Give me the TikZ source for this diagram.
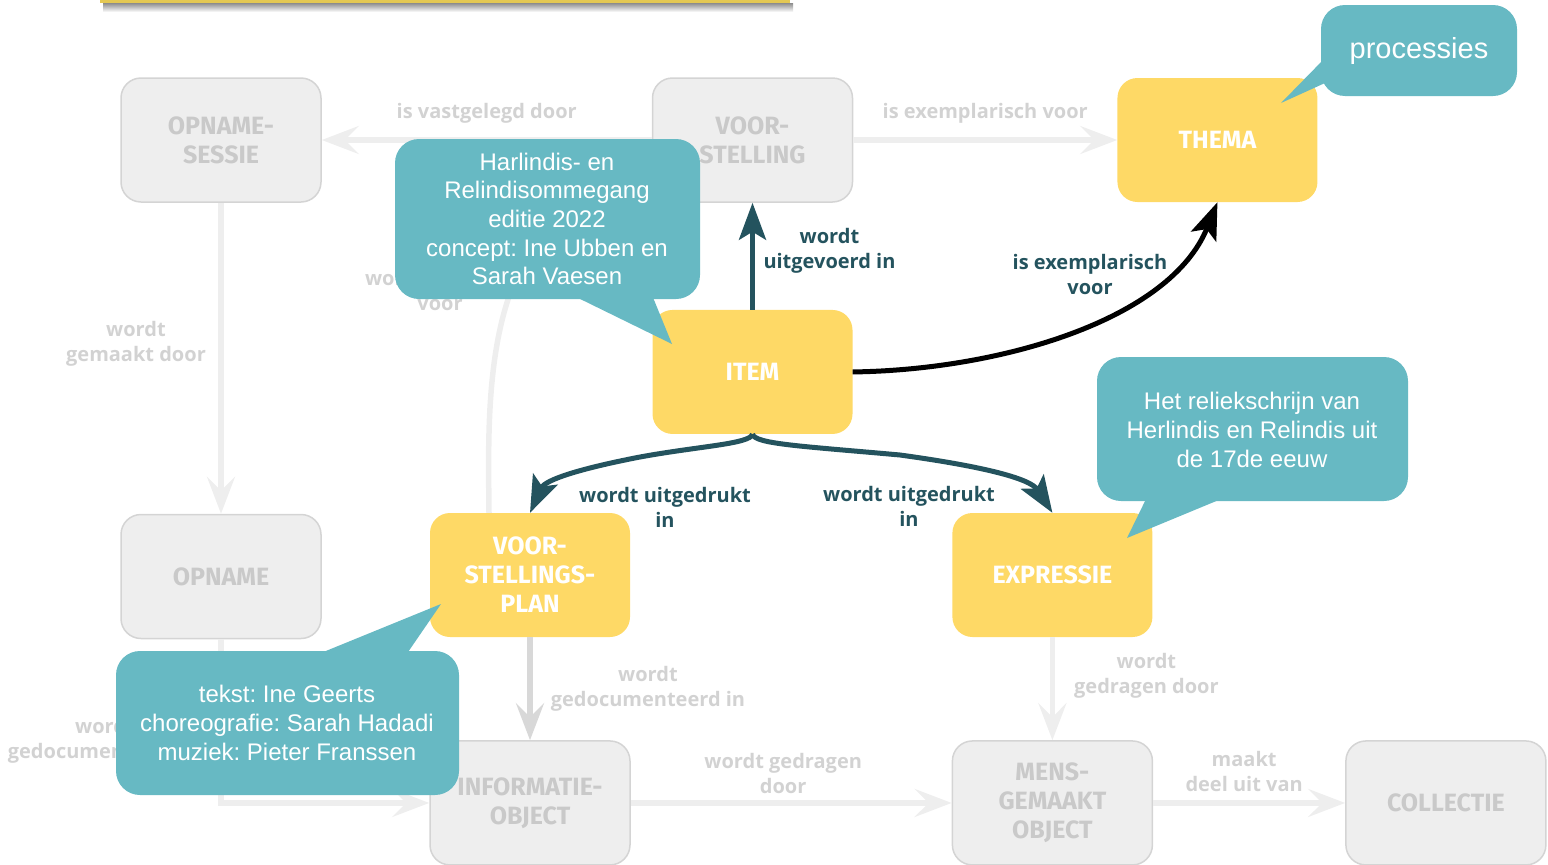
\documentclass[tikz,border=0pt]{standalone}
\usepackage{fontspec}
\setmainfont{Fira Sans}
\newfontfamily\calloutfont{Liberation Sans}
\newfontfamily\labelfont{Open Sans}
\usetikzlibrary{arrows.meta, positioning}
\frenchspacing

\definecolor{itemyellow}{HTML}{FED966}
\definecolor{baryellow}{HTML}{E4C852}
\definecolor{calloutteal}{HTML}{67B9C3}
\definecolor{darkteal}{HTML}{24535E}
\definecolor{boxgray}{HTML}{EEEEEE}
\definecolor{boxline}{HTML}{D4D4D4}
\definecolor{boxtext}{HTML}{C9C9C9}
\definecolor{fadedline}{HTML}{EEEEEE}
\definecolor{fadedtext}{HTML}{D2D2D2}

\tikzset{
  box/.style={rounded corners=20pt, minimum width=200pt, minimum height=124pt,
    align=center, inner sep=0pt, font=\bfseries\fontsize{25}{29}\selectfont},
  grey box/.style={box, fill=boxgray, draw=boxline, line width=1.5pt, text=boxtext},
  yellow box/.style={box, fill=itemyellow, text=white},
  faded/.style={draw=fadedline, line width=5.5pt,
    -{Stealth[length=37pt, width=28pt, inset=14pt]}},
  faded plan/.style={faded, draw=boxline!90},
  active/.style={draw=darkteal, line width=5pt,
    -{Stealth[length=37pt, width=27pt, inset=8pt]}},
  black edge/.style={active, draw=black},
  faded label/.style={text=fadedtext, align=center, inner sep=0pt,
    font=\labelfont\bfseries\fontsize{20}{25}\selectfont},
  active label/.style={faded label, text=darkteal},
  callout/.style={fill=calloutteal, rounded corners=24pt},
  callout text/.style={text=white, align=center, inner sep=0pt,
    font=\calloutfont\fontsize{24}{28.7}\selectfont},
}

\begin{document}
\begin{tikzpicture}[x=1pt, y=-1pt]
  \useasboundingbox (0,0) rectangle (1548,865);

  % header bar, cut off at the top
  \shade[top color=black!45, bottom color=white] (103,3) rectangle (793,12);
  \fill[baryellow] (100,-3) rectangle (790,3);

  % classes
  \node[grey box] (sessie) at (221,140) {OPNAME-\\SESSIE};
  \node[grey box, right=330pt of sessie] (voorstelling) {VOOR-\\STELLING};
  \node[yellow box, right=264pt of voorstelling] (thema) {THEMA};
  \node[yellow box, below=107pt of voorstelling] (item) {ITEM};
  \node[grey box, below=311pt of sessie] (opname) {OPNAME};
  \node[yellow box] (plan) at (530,575) {VOOR-\\STELLINGS-\\PLAN};
  \node[yellow box, right=322pt of plan] (expressie) {EXPRESSIE};
  \node[grey box, below=103pt of plan] (info) {INFORMATIE-\\OBJECT};
  \node[grey box, below=103pt of expressie] (mens) {MENS-\\GEMAAKT\\OBJECT};
  \node[grey box, right=192pt of mens] (collectie) {COLLECTIE};

  % faded relations
  \draw[faded] (voorstelling) -- node[faded label, yshift=27pt] (lblvast) {is vastgelegd door} (sessie);
  \draw[faded] (voorstelling) -- node[faded label, yshift=27pt] (lblexvoor) {is exemplarisch voor} (thema);
  \draw[faded] (sessie) -- node[faded label, xshift=-85pt, yshift=14pt] (lblgemaakt) {wordt\\gemaakt door} (opname);
  \draw[faded] ([xshift=-41pt]plan.north) .. controls (488,400) and (480,210) .. ([yshift=-45pt]voorstelling.west);
  \node[faded label] (lblgebruikt) at (440,290) {wordt gebruikt\\voor};
  \draw[faded] (opname) |- node[faded label, pos=0.31, xshift=-116pt] (lbldoc) {wordt\\gedocumenteerd in} (info);
  \draw[faded plan] (plan) -- node[faded label, xshift=118pt] (lblgedoc) {wordt\\gedocumenteerd in} (info);
  \draw[faded] (info) -- node[faded label, xshift=-8pt, yshift=29pt] (lblgedragen) {wordt gedragen\\door} (mens);
  \draw[faded] (expressie) -- node[faded label, xshift=94pt, yshift=13pt] (lbldrager) {wordt\\gedragen door} (mens);
  \draw[faded] (mens) -- node[faded label, xshift=-5pt, yshift=31pt] (lbldeel) {maakt\\deel uit van} (collectie);

  % active relations
  \draw[active] (item) -- node[active label, xshift=77pt, yshift=5pt] (lbluitgevoerd) {wordt\\uitgevoerd in} (voorstelling);
  \draw[active] (item.south) .. controls (750,444) and (700,446) .. (640,457)
    .. controls (578,469) and (545,480) .. (plan.north);
  \node[active label] (lbluitplan) at (665,507) {wordt uitgedrukt\\in};
  \draw[active] (item.south) .. controls (755,444) and (800,446) .. (900,455)
    .. controls (980,466) and (1030,478) .. (expressie.north);
  \node[active label] (lbluitexpr) at (909,506) {wordt uitgedrukt\\in};
  \draw[black edge] (item.east) .. controls (1000,370) and (1170,320) .. (thema.south);
  \node[active label] (lblthema) at (1090,274) {is exemplarisch\\voor};

  % callouts
  \fill[callout] (395,139) rectangle (700,299);
  \fill[calloutteal] (572,295) -- (672,344) -- (652,295) -- cycle;
  \node[callout text] (ommegang) at (547,219) {Harlindis- en\\Relindisommegang\\editie 2022\\concept: Ine Ubben en\\Sarah Vaesen};

  \fill[callout] (1321,5) rectangle (1517,96);
  \fill[calloutteal] (1325,58) -- (1281,103) -- (1325,83) -- cycle;
  \node[callout text, font=\calloutfont\fontsize{29}{34}\selectfont] (processies) at (1419,51) {processies};

  \fill[callout] (1097,357) rectangle (1408,501);
  \fill[calloutteal] (1147,497) -- (1127,538) -- (1226,497) -- cycle;
  \node[callout text] (schrijn) at (1252,430) {Het reliekschrijn van\\Herlindis en Relindis uit\\de 17de eeuw};

  \fill[callout] (116,651) rectangle (459,795);
  \fill[calloutteal] (316,655) -- (441,604) -- (406,655) -- cycle;
  \node[callout text] (makers) at (287,723) {tekst: Ine Geerts\\choreografie: Sarah Hadadi\\muziek: Pieter Franssen};
\end{tikzpicture}
\end{document}
